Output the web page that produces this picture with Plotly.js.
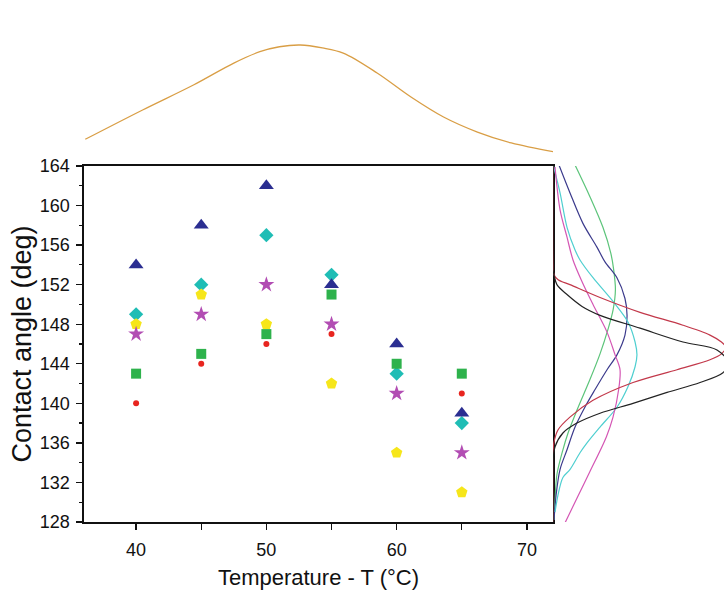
<!DOCTYPE html>
<html>
<head>
<meta charset="utf-8">
<script src="https://cdn.plot.ly/plotly-3.0.1.min.js"></script>
<style>
  html, body { margin: 0; padding: 0; background: #ffffff; }
  #chart { width: 724px; height: 591px; }
</style>
</head>
<body>
<div id="chart"></div>
<script>
// ---- Main scatter data (temperature in °C, contact angle in deg) ----
const temps = [40, 45, 50, 55, 60, 65];
const triangleAngle = [154, 158, 162, 152, 146, 139];
const diamondAngle  = [149, 152, 157, 153, 143, 138];
const pentagonAngle = [148, 151, 148, 142, 135, 131];
const starAngle     = [147, 149, 152, 148, 141, 135];
const squareAngle   = [143, 145, 147, 151, 144, 143];
const dotAngle      = [140, 144, 146, 147, null, 141];

// ---- Top marginal distribution (temperature) ----
const topT       = [36.1, 40.5, 44.4, 47.5, 49.5, 51.0, 52.6, 54.3, 55.9, 58.5, 61.1, 63.6, 66.2, 68.8, 72.0];
const topDensity = [0.18, 0.435, 0.652, 0.843, 0.942, 0.985, 1.0, 0.975, 0.93, 0.757, 0.548, 0.374, 0.243, 0.148, 0.072];

// ---- Right marginal distributions (contact angle) ----
const greenCurveAngle   = [164.1, 160.9, 157.8, 155.2, 153.5, 151.5, 149.5, 147.5, 145.0, 142.4, 139.3, 137.0, 135.3, 132.8, 130.2, 128.2];
const greenCurveDensity = [0.129, 0.216, 0.292, 0.338, 0.355, 0.365, 0.352, 0.322, 0.275, 0.216, 0.140, 0.088, 0.058, 0.023, 0.012, 0.006];

const navyCurveAngle   = [164.1, 161.3, 158.2, 155.8, 154.3, 152.7, 150.6, 148.9, 146.9, 144.9, 143.4, 141.4, 140.0, 137.6, 135.3, 133.3, 130.7, 128.2];
const navyCurveDensity = [0.035, 0.099, 0.175, 0.257, 0.304, 0.374, 0.421, 0.433, 0.421, 0.374, 0.316, 0.246, 0.199, 0.129, 0.082, 0.041, 0.018, 0.006];

const cyanCurveAngle   = [164.2, 161.3, 157.8, 155.5, 154.5, 152.7, 150.3, 148.2, 146.2, 144.9, 143.7, 141.7, 139.6, 137.6, 136.0, 135.0, 133.3, 132.5, 130.7, 129.0];
const cyanCurveDensity = [0.0, 0.041, 0.082, 0.129, 0.158, 0.234, 0.351, 0.439, 0.480, 0.491, 0.480, 0.439, 0.374, 0.275, 0.199, 0.158, 0.099, 0.058, 0.029, 0.012];

const magentaCurveAngle   = [163.9, 159.6, 156.8, 154.5, 152.3, 150.0, 147.2, 144.9, 143.4, 141.4, 138.6, 136.6, 133.1, 130.4, 127.9];
const magentaCurveDensity = [0.012, 0.041, 0.082, 0.117, 0.170, 0.234, 0.316, 0.363, 0.392, 0.384, 0.351, 0.312, 0.216, 0.140, 0.070];

const redCurveAngle   = [164.0, 154.0, 153.0, 152.5, 152.0, 150.7, 149.2, 147.9, 146.9, 146.2, 145.7, 145.0, 144.4, 143.4, 142.1, 140.3, 138.6, 137.3, 136.0, 135.0, 128.0];
const redCurveDensity = [0.0, 0.0, 0.006, 0.03, 0.099, 0.275, 0.509, 0.760, 0.918, 0.985, 1.01, 0.985, 0.918, 0.725, 0.468, 0.234, 0.099, 0.029, 0.005, 0.0, 0.0];

const blackCurveAngle   = [164.0, 153.5, 153.0, 152.0, 151.0, 149.8, 148.9, 147.6, 146.2, 145.4, 144.0, 143.1, 142.1, 141.1, 140.0, 139.0, 138.0, 137.0, 135.6, 134.0, 128.0];
const blackCurveDensity = [0.0, 0.0, 0.006, 0.023, 0.082, 0.17, 0.275, 0.509, 0.760, 0.959, 1.03, 0.994, 0.860, 0.667, 0.468, 0.275, 0.140, 0.058, 0.012, 0.0, 0.0];

const FONT = 'Liberation Sans, Arial, Helvetica, sans-serif';

function scatter(y, symbol, color, size) {
  return {
    type: 'scatter', mode: 'markers', x: temps, y: y,
    xaxis: 'x', yaxis: 'y', showlegend: false, cliponaxis: false,
    marker: { symbol: symbol, color: color, size: size, line: { width: 0 } }
  };
}
function sideCurve(angle, dens, color) {
  return {
    type: 'scatter', mode: 'lines', x: dens, y: angle,
    xaxis: 'x2', yaxis: 'y2', showlegend: false,
    line: { color: color, width: 1.2, shape: 'spline', smoothing: 0.9 }
  };
}

const data = [
  scatter(diamondAngle, 'diamond', '#1fbdb5', 11),
  scatter(triangleAngle, 'triangle-up', '#2b2e91', 13),
  scatter(pentagonAngle, 'pentagon', '#f6e61a', 12),
  scatter(squareAngle, 'square', '#2eb24c', 10),
  scatter(starAngle, 'star', '#b24db3', 12),
  scatter(dotAngle, 'circle', '#e8251f', 6),
  {
    type: 'scatter', mode: 'lines', x: topT, y: topDensity,
    xaxis: 'x', yaxis: 'y3', showlegend: false,
    line: { color: '#d99e45', width: 1.3, shape: 'spline', smoothing: 1 }
  },
  sideCurve(greenCurveAngle, greenCurveDensity, '#5cc47a'),
  sideCurve(navyCurveAngle, navyCurveDensity, '#3b3a8c'),
  sideCurve(cyanCurveAngle, cyanCurveDensity, '#4fcfd0'),
  sideCurve(magentaCurveAngle, magentaCurveDensity, '#d456b4'),
  sideCurve(redCurveAngle, redCurveDensity, '#c2384a'),
  sideCurve(blackCurveAngle, blackCurveDensity, '#222222')
];

const layout = {
  width: 724, height: 591,
  margin: { l: 0, r: 0, t: 0, b: 0 },
  paper_bgcolor: '#ffffff', plot_bgcolor: 'rgba(0,0,0,0)',
  font: { family: FONT, color: '#111111' },
  showlegend: false,
  xaxis: {
    domain: [0.1160, 0.7638], range: [36, 72], anchor: 'y',
    tickmode: 'linear', tick0: 0, dtick: 10,
    ticks: 'outside', ticklen: 6, tickwidth: 1.3, tickcolor: '#111',
    minor: { dtick: 5, tick0: 0, ticks: 'outside', ticklen: 6, tickwidth: 1.3, tickcolor: '#111' },
    showline: true, linecolor: '#111', linewidth: 1.6, mirror: true,
    showgrid: false, zeroline: false,
    tickfont: { size: 18, family: FONT, color: '#111' },
    ticklabelstandoff: 5,
    title: { text: 'Temperature - T (°C)', font: { size: 22, family: FONT, color: '#111' }, standoff: 10 }
  },
  yaxis: {
    domain: [0.1168, 0.7191], range: [128, 164], anchor: 'x',
    tickmode: 'linear', tick0: 128, dtick: 4,
    ticks: 'outside', ticklen: 6, tickwidth: 1.3, tickcolor: '#111',
    minor: { dtick: 2, tick0: 128, ticks: 'outside', ticklen: 3, tickwidth: 1.2, tickcolor: '#111' },
    showline: true, linecolor: '#111', linewidth: 1.6, mirror: true,
    showgrid: false, zeroline: false,
    tickfont: { size: 18, family: FONT, color: '#111' },
    ticklabelstandoff: 3,
    title: { text: 'Contact angle (deg)', font: { size: 27, family: FONT, color: '#111' }, standoff: 0 }
  },
  xaxis2: {
    domain: [0.7638, 1.0], range: [0, 1.0], anchor: 'y2',
    visible: false, showgrid: false, zeroline: false
  },
  yaxis2: {
    domain: [0.1168, 0.7191], range: [128, 164], anchor: 'x2',
    visible: false, showgrid: false, zeroline: false
  },
  yaxis3: {
    domain: [0.7293, 0.9323], range: [0, 1.0435], anchor: 'x',
    visible: false, showgrid: false, zeroline: false
  }
};

Plotly.newPlot('chart', data, layout, { displayModeBar: false, staticPlot: true });
</script>
</body>
</html>
